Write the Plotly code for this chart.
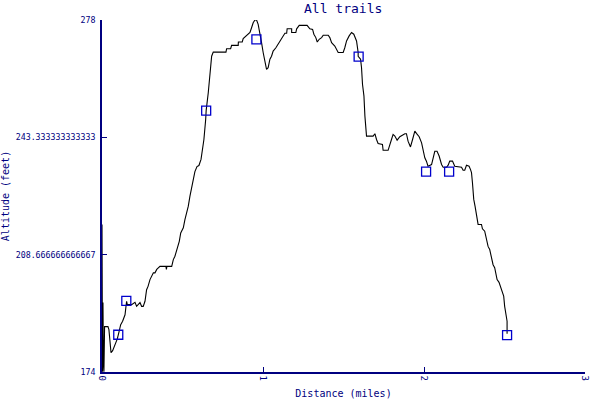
import plotly.graph_objects as go

# Track profile: distance (miles) and altitude (feet)
distance = [0.000, 0.003, 0.006, 0.009, 0.012, 0.016, 0.037, 0.043, 0.050, 0.056,
            0.066, 0.074, 0.087, 0.095, 0.106, 0.116, 0.128, 0.143, 0.149, 0.153,
            0.157, 0.184, 0.205, 0.215, 0.236, 0.246, 0.256, 0.267, 0.277, 0.286,
            0.298, 0.309, 0.319, 0.329, 0.340, 0.360, 0.397, 0.400, 0.403, 0.433,
            0.443, 0.453, 0.467, 0.480, 0.489, 0.505, 0.515, 0.526, 0.536, 0.546,
            0.557, 0.567, 0.577, 0.590, 0.602, 0.615, 0.627, 0.633, 0.644, 0.647,
            0.660, 0.670, 0.681, 0.691, 0.770, 0.774, 0.799, 0.805, 0.846, 0.847,
            0.871, 0.877, 0.898, 0.919, 0.929, 0.939, 0.950, 0.960, 0.970, 0.981,
            0.991, 1.001, 1.012, 1.022, 1.032, 1.043, 1.053, 1.063, 1.080, 1.094,
            1.105, 1.122, 1.136, 1.147, 1.150, 1.178, 1.178, 1.204, 1.209, 1.225,
            1.274, 1.291, 1.308, 1.316, 1.328, 1.337, 1.349, 1.364, 1.374, 1.405,
            1.415, 1.426, 1.446, 1.467, 1.498, 1.508, 1.519, 1.535, 1.550, 1.564,
            1.581, 1.591, 1.591, 1.606, 1.612, 1.618, 1.627, 1.633, 1.639, 1.643,
            1.684, 1.695, 1.705, 1.715, 1.742, 1.746, 1.777, 1.788, 1.798, 1.808,
            1.819, 1.833, 1.850, 1.881, 1.891, 1.901, 1.916, 1.929, 1.943, 1.953,
            1.970, 1.985, 1.994, 2.005, 2.015, 2.025, 2.047, 2.067, 2.081, 2.094,
            2.109, 2.119, 2.140, 2.150, 2.160, 2.177, 2.191, 2.233, 2.243, 2.253,
            2.264, 2.280, 2.289, 2.295, 2.301, 2.309, 2.317, 2.326, 2.336, 2.357,
            2.363, 2.377, 2.388, 2.398, 2.408, 2.419, 2.429, 2.439, 2.445, 2.454,
            2.466, 2.475, 2.487, 2.495, 2.501, 2.508, 2.516, 2.516]

altitude = [217.6, 174.1, 194.5, 176.2, 174.1, 187.4, 187.4, 186.5, 182.1, 179.7,
            180.3, 181.2, 182.7, 183.8, 185.9, 188.0, 189.0, 190.9, 193.4, 194.9,
            193.9, 193.9, 194.6, 193.4, 194.5, 193.4, 193.4, 194.9, 198.3, 199.3,
            201.3, 202.3, 203.3, 203.3, 204.3, 205.2, 205.2, 204.3, 205.2, 205.2,
            207.2, 208.2, 210.2, 212.6, 215.1, 216.6, 219.0, 221.1, 223.0, 225.9,
            228.9, 230.9, 233.2, 234.7, 235.0, 236.8, 240.3, 242.7, 248.6, 251.3,
            256.5, 262.4, 267.3, 268.5, 268.5, 269.5, 269.5, 270.5, 270.5, 271.5,
            271.5, 272.5, 273.3, 274.3, 275.7, 277.2, 278.0, 278.0, 276.7, 274.3,
            271.3, 268.4, 265.4, 263.4, 263.9, 266.4, 267.3, 268.8, 269.8, 270.8,
            271.8, 272.8, 274.1, 274.1, 275.4, 275.4, 274.3, 274.3, 275.4, 276.4,
            276.4, 275.4, 275.2, 273.8, 272.8, 271.5, 272.3, 272.8, 273.5, 273.5,
            272.8, 271.3, 270.3, 268.4, 268.4, 269.8, 271.8, 273.3, 274.3, 273.8,
            271.8, 268.4, 267.3, 266.4, 263.9, 259.0, 255.5, 249.6, 246.6, 243.7,
            243.7, 244.4, 242.7, 241.5, 241.2, 239.5, 239.5, 241.5, 242.7, 244.2,
            243.7, 242.5, 243.5, 244.4, 244.4, 242.2, 240.5, 242.7, 245.2, 244.5,
            243.5, 241.7, 239.7, 237.3, 236.3, 234.8, 235.3, 239.2, 239.2, 237.8,
            235.3, 234.5, 234.5, 235.1, 236.3, 236.3, 234.8, 234.5, 233.6, 233.6,
            235.1, 234.8, 233.8, 232.9, 229.9, 225.0, 223.0, 220.5, 217.6, 217.6,
            216.3, 215.6, 213.6, 211.1, 210.2, 207.7, 205.7, 204.8, 202.8, 201.3,
            200.5, 199.3, 197.8, 196.4, 193.4, 191.5, 189.0, 185.3]

# Waypoints marked with squares
wp_distance = [0.101, 0.151, 0.647, 0.959, 1.594, 2.013, 2.156, 2.516]
wp_altitude = [185.0, 195.0, 251.2, 272.3, 267.2, 233.2, 233.2, 184.9]

y_ticks = [174, 208.666666666667, 243.333333333333, 278]
y_tick_text = ["174", "208.666666666667", "243.333333333333", "278"]
x_ticks = [0, 1, 2, 3]
x_tick_text = ["0", "1", "2", "3"]

NAVY = "#000080"
FONT = "DejaVu Sans Mono"

fig = go.Figure()
fig.add_trace(go.Scatter(
    x=distance, y=altitude, mode="lines",
    line=dict(color="black", width=1.1),
    hoverinfo="skip", showlegend=False,
))
fig.add_trace(go.Scatter(
    x=wp_distance, y=wp_altitude, mode="markers",
    marker=dict(symbol="square-open", size=9, color="#0000cc",
                line=dict(width=1.3, color="#0000cc")),
    showlegend=False,
))

fig.update_layout(
    width=600, height=400,
    margin=dict(l=102, r=15, t=20, b=28, autoexpand=False),
    paper_bgcolor="white", plot_bgcolor="white",
    font=dict(family=FONT, color=NAVY, size=9),
    title=dict(text="All trails", x=0.572, xanchor="center", y=0.98, yanchor="middle",
               font=dict(family=FONT, size=13, color=NAVY)),
)
fig.update_xaxes(
    range=[0, 3], tickvals=x_ticks, ticktext=x_tick_text, tickangle=90,
    showgrid=False, zeroline=False, showline=True, linecolor=NAVY, linewidth=1.5,
    ticks="inside", ticklen=5, tickcolor=NAVY, tickfont=dict(family=FONT, size=9, color=NAVY),
    automargin=False,
    title=dict(text="Distance (miles)", font=dict(family=FONT, size=10, color=NAVY), standoff=10),
)
fig.update_yaxes(
    range=[174, 278], tickvals=y_ticks, ticktext=y_tick_text,
    showgrid=False, zeroline=False, showline=True, linecolor=NAVY, linewidth=1.5,
    ticks="inside", ticklen=5, tickcolor=NAVY, tickfont=dict(family=FONT, size=8.3, color=NAVY),
    ticklabelstandoff=3,
    automargin=False,
    title=dict(text="Altitude (feet)", font=dict(family=FONT, size=10, color=NAVY), standoff=6),
)

fig.write_html("out.html", config={"displayModeBar": False},
               post_script="document.body.style.margin='0';")
